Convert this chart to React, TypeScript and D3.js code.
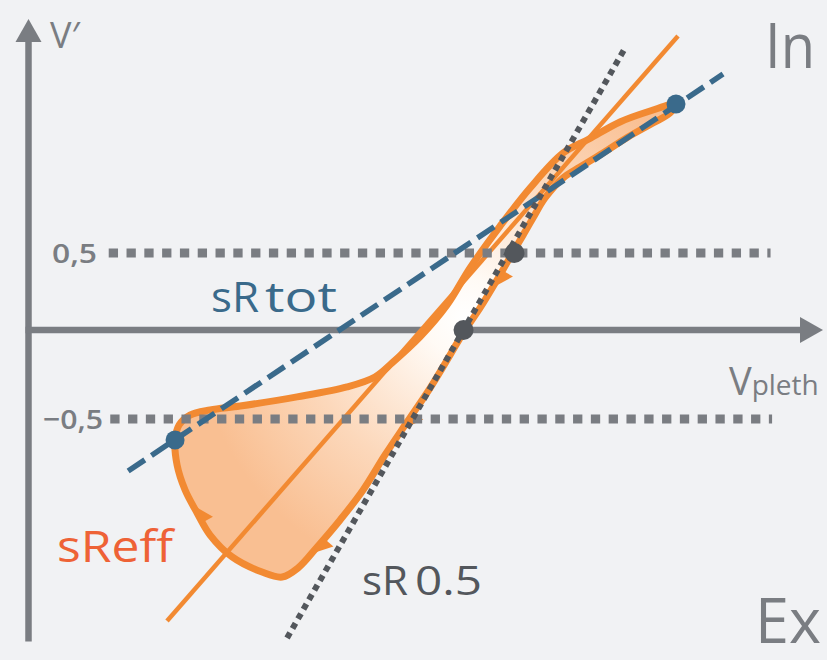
import React from 'react';
import * as d3 from 'd3';

const W = 827;
const H = 660;

// Loop: V' (flow) against Vpleth, in chart units
// upper limb: from the end-expiratory point up to the end-inspiratory point
const upperLimb: [number, number][] = [
  [-1.87, -0.618], [-1.844, -0.534], [-1.773, -0.478], [-1.643, -0.449], [-1.448, -0.427],
  [-1.079, -0.376], [-0.755, -0.32], [-0.574, -0.264], [-0.463, -0.185], [-0.282, -0.039],
  [-0.107, 0.162], [0.042, 0.403], [0.237, 0.675], [0.431, 0.922], [0.645, 1.149],
  [0.813, 1.24], [1.014, 1.351], [1.209, 1.422], [1.377, 1.468],
];
// return limb: from the end-inspiratory point down and back round
const returnLimb: [number, number][] = [
  [1.338, 1.409], [1.228, 1.344], [1.066, 1.253], [0.904, 1.149], [0.755, 1.058],
  [0.645, 0.987], [0.528, 0.857], [0.45, 0.727], [0.379, 0.604], [0.321, 0.506],
  [0.217, 0.325], [0.107, 0.143], [-0.003, -0.017], [-0.087, -0.14], [-0.217, -0.326],
  [-0.366, -0.517], [-0.509, -0.702], [-0.651, -0.899], [-0.8, -1.067], [-0.949, -1.219],
  [-1.073, -1.337], [-1.176, -1.388], [-1.306, -1.36], [-1.5, -1.275], [-1.643, -1.152],
  [-1.727, -1.028], [-1.805, -0.899], [-1.857, -0.758],
];
// indices into returnLimb where direction arrows sit
const arrowIdx = [10, 15, 19, 25];

const refLevels = [0.5, -0.5];
const refLabels = ['0,5', '\u22120,5'];
const refExtents: [number, number][] = [[-2.3, 1.99], [-2.29, 2.0]];

const sRtotLine: [number, number][] = [[-2.174, -0.792], [1.682, 1.662]];
const sR05Line: [number, number][] = [[-1.144, -1.73], [1.047, 1.831]];
const sReffLine: [number, number][] = [[-1.922, -1.635], [1.39, 1.909]];
const blueDots: [number, number][] = [[-1.87, -0.618], [1.377, 1.468]];
const grayDots: [number, number][] = [[0, 0], [0.33, 0.5]];

const xDomain: [number, number] = [-2.82, 2.33];
const yAxisExtent: [number, number] = [-1.75, 2.02];

const GRAY = '#7a7d82';
const ORANGE = '#f28a32';
const BLUE = '#3a6a8b';
const DARK = '#53575c';
const FONT = '"Open Sans", Lato, sans-serif';

export default function App() {
  const x = d3.scaleLinear().domain(xDomain).range([28.5, 823]);
  const y = d3.scaleLinear().domain([-0.5, 0, 0.5]).range([419, 330, 253]);

  const loopPts = [...upperLimb, ...returnLimb].map(([a, b]) => [x(a), y(b)] as [number, number]);
  const loopPath = d3.line().curve(d3.curveCatmullRomClosed.alpha(0.5))(loopPts) || '';
  const seg = (p: [number, number][]) => d3.line()(p.map(([a, b]) => [x(a), y(b)] as [number, number])) || '';

  const retPx = returnLimb.map(([a, b]) => [x(a), y(b)]);
  const arrows = arrowIdx.map((i) => {
    const p = retPx[i];
    const prev = retPx[i - 1];
    const next = retPx[i + 1];
    let dx = next[0] - prev[0];
    let dy = next[1] - prev[1];
    const L = Math.hypot(dx, dy);
    dx /= L; dy /= L;
    let nx = -dy, ny = dx;
    if (nx < 0) { nx = -nx; ny = -ny; }
    const tip = [p[0] + dx * 9, p[1] + dy * 9];
    const base = [p[0] - dx * 11, p[1] - dy * 11];
    const pts = [tip, [base[0] - nx * 3, base[1] - ny * 3], [base[0] + nx * 12, base[1] + ny * 12]];
    return pts.map((q) => q.join(',')).join(' ');
  });

  const x0 = x(xDomain[0]);
  const y0 = y(0);

  return (
    <svg width={W} height={H} style={{ position: 'absolute', left: 0, top: 0, background: '#f1f2f4' }}>
      <defs>
        <radialGradient id="loopFill" gradientUnits="userSpaceOnUse" cx={465} cy={318} r={270}>
          <stop offset="0" stopColor="#ffffff" />
          <stop offset="0.15" stopColor="#fffaf5" />
          <stop offset="0.6" stopColor="#fcd8bb" />
          <stop offset="1" stopColor="#f9bf92" />
        </radialGradient>
      </defs>
      <rect width={W} height={H} fill="#f1f2f4" />

      {/* axes */}
      <line x1={x0} x2={x0} y1={y(yAxisExtent[0])} y2={y(yAxisExtent[1]) + 20} stroke={GRAY} strokeWidth={6.5} />
      <polygon points={`${x0},${y(yAxisExtent[1])} ${x0 - 13},${y(yAxisExtent[1]) + 23} ${x0 + 13},${y(yAxisExtent[1]) + 23}`} fill={GRAY} />
      <line x1={x0 - 3} x2={x(xDomain[1]) - 20} y1={y0} y2={y0} stroke={GRAY} strokeWidth={6.5} />
      <polygon points={`${x(xDomain[1])},${y0} ${x(xDomain[1]) - 23},${y0 - 13} ${x(xDomain[1]) - 23},${y0 + 13}`} fill={GRAY} />

      {/* loop */}
      <path d={loopPath} fill="url(#loopFill)" stroke={ORANGE} strokeWidth={7} strokeLinejoin="round" />
      {arrows.map((pts, i) => (
        <polygon key={i} points={pts} fill={ORANGE} />
      ))}
      <path d={seg(sReffLine)} stroke={ORANGE} strokeWidth={4.5} fill="none" />

      {/* reference levels */}
      {refLevels.map((v, i) => (
        <g key={v}>
          <line x1={x(refExtents[i][0])} x2={x(refExtents[i][1])} y1={y(v)} y2={y(v)} stroke={GRAY} strokeWidth={9} strokeDasharray="9.3 8.5" />
          <text x={i === 0 ? 97 : 103} y={y(v)} dy="0.36em" textAnchor="end" fontFamily={FONT} fontWeight={600} fontSize={27} fill={GRAY}
            textLength={i === 0 ? 45 : 60} lengthAdjust="spacingAndGlyphs">{refLabels[i]}</text>
        </g>
      ))}

      {/* slopes */}
      <path d={seg(sRtotLine)} stroke={BLUE} strokeWidth={5.5} strokeDasharray="20 8" fill="none" />
      <path d={seg(sR05Line)} stroke={DARK} strokeWidth={6} strokeDasharray="6 5" fill="none" />

      {blueDots.map(([a, b], i) => <circle key={'b' + i} cx={x(a)} cy={y(b)} r={9.5} fill={BLUE} />)}
      {grayDots.map(([a, b], i) => <circle key={'g' + i} cx={x(a)} cy={y(b)} r={10} fill={DARK} />)}

      {/* labels */}
      <text x={50} y={48} fontFamily={FONT} fontSize={36} fill={GRAY}>V′</text>
      <text x={765} y={68} fontFamily={FONT} fontSize={62} fill={GRAY} textLength={50} lengthAdjust="spacingAndGlyphs">In</text>
      <text x={755} y={643} fontFamily={FONT} fontSize={63} fill={GRAY} textLength={66} lengthAdjust="spacingAndGlyphs">Ex</text>
      <text x={729} y={395} fontFamily={FONT} fill={GRAY}>
        <tspan fontSize={38}>V</tspan><tspan fontSize={28}>pleth</tspan>
      </text>
      <text x={211} y={312} fontFamily={FONT} fontSize={42} fill={BLUE}>
        <tspan textLength={48} lengthAdjust="spacingAndGlyphs">sR</tspan>
        <tspan x={265} textLength={72} lengthAdjust="spacingAndGlyphs">tot</tspan>
      </text>
      <text x={57} y={562} fontFamily={FONT} fontSize={44} fill="#ee6236" textLength={116} lengthAdjust="spacingAndGlyphs">sReff</text>
      <text x={362} y={595} fontFamily={FONT} fontSize={40} fill={DARK}>
        <tspan textLength={46} lengthAdjust="spacingAndGlyphs">sR</tspan>
        <tspan x={415} textLength={67} lengthAdjust="spacingAndGlyphs">0.5</tspan>
      </text>
    </svg>
  );
}
